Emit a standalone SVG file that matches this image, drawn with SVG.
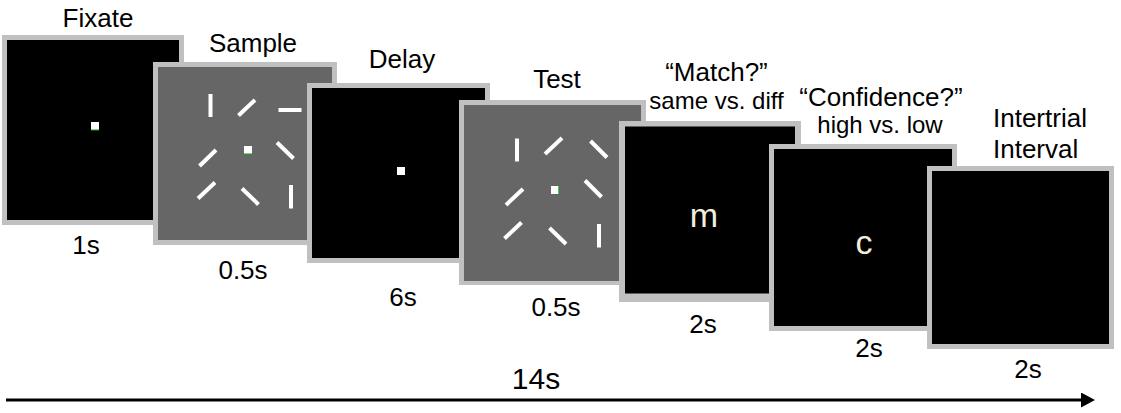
<svg xmlns="http://www.w3.org/2000/svg" width="1121" height="413" viewBox="0 0 1121 413">
  <style>
    .frame { fill: #c0c0c0; }
    .dark { fill: #000000; }
    .grey { fill: #666666; }
    .lbl { font-family: "Liberation Sans", Arial, sans-serif; font-size: 26px; fill: #000000; text-anchor: middle; }
    .sub { font-size: 24px; }
    .big { font-size: 30px; }
    .cue { font-family: "Liberation Sans", Arial, sans-serif; font-size: 34px; fill: #f3eedc; text-anchor: middle; }
    .fix { fill: #ffffff; }
    .bar { stroke: #ffffff; stroke-width: 4; stroke-linecap: butt; fill: none; }
  </style>
  <defs>
    <marker id="arrowhead" viewBox="0 0 14 15" refX="0" refY="7.5" markerWidth="14" markerHeight="15" markerUnits="userSpaceOnUse" orient="auto">
      <path d="M0,0 L14,7.5 L0,15 Z" fill="#000000"/>
    </marker>
  </defs>

  <rect width="1121" height="413" fill="#ffffff"/>

  <!-- Fixate screen -->
  <g id="fixate">
    <text class="lbl" x="98" y="27">Fixate</text>
    <rect class="frame" x="2" y="35" width="182" height="190"/>
    <rect class="dark" x="7" y="40" width="172" height="180"/>
    <rect class="fix" x="91" y="122" width="8" height="8"/>
    <rect x="91" y="129.5" width="8" height="1" fill="#1a9a1a"/>
    <text class="lbl" x="86" y="254">1s</text>
  </g>

  <!-- Sample array -->
  <g id="sample">
    <text class="lbl" x="253" y="52">Sample</text>
    <rect class="frame" x="153" y="62" width="184" height="183"/>
    <rect class="grey" x="158" y="67" width="174" height="173"/>
    <line class="bar" x1="210.5" y1="94" x2="210.5" y2="117"/>
    <line class="bar" x1="238.5" y1="115.5" x2="255" y2="100"/>
    <line class="bar" x1="278.5" y1="110" x2="301.5" y2="110"/>
    <line class="bar" x1="199.5" y1="166" x2="216" y2="150"/>
    <line class="bar" x1="277" y1="142.5" x2="293.5" y2="158.5"/>
    <line class="bar" x1="198" y1="198.5" x2="215" y2="182.5"/>
    <line class="bar" x1="242" y1="188.5" x2="258.5" y2="204.5"/>
    <line class="bar" x1="291" y1="185" x2="291" y2="208.5"/>
    <rect class="fix" x="244" y="146" width="8" height="8"/>
    <rect x="244" y="153.5" width="8" height="1.2" fill="#1a9a1a"/>
    <text class="lbl" x="243" y="279">0.5s</text>
  </g>

  <!-- Delay screen -->
  <g id="delay">
    <text class="lbl" x="402" y="68">Delay</text>
    <rect class="frame" x="307" y="83" width="183" height="180"/>
    <rect class="dark" x="312" y="88" width="173" height="170"/>
    <rect class="fix" x="397" y="167" width="8" height="8"/>
    <text class="lbl" x="403" y="306">6s</text>
  </g>

  <!-- Test array -->
  <g id="test">
    <text class="lbl" x="557" y="88">Test</text>
    <rect class="frame" x="459" y="100" width="187" height="185"/>
    <rect class="grey" x="464" y="105" width="177" height="176"/>
    <line class="bar" x1="517" y1="138.5" x2="517" y2="161.5"/>
    <line class="bar" x1="545" y1="154" x2="562" y2="138"/>
    <line class="bar" x1="590.5" y1="141" x2="607" y2="157.5"/>
    <line class="bar" x1="506" y1="205" x2="523" y2="189"/>
    <line class="bar" x1="585" y1="180.5" x2="601.5" y2="197"/>
    <line class="bar" x1="504.5" y1="238.5" x2="521.5" y2="222.5"/>
    <line class="bar" x1="549.5" y1="228" x2="566" y2="244"/>
    <line class="bar" x1="599" y1="224" x2="599" y2="247.5"/>
    <rect class="fix" x="551" y="186" width="8" height="8"/>
    <rect x="558.3" y="186" width="1.2" height="8" fill="#1a9a1a"/>
    <text class="lbl" x="556" y="316">0.5s</text>
  </g>

  <!-- Match response screen -->
  <g id="match">
    <text class="lbl" x="716.5" y="81">“Match?”</text>
    <text class="lbl sub" x="716.5" y="109">same vs. diff</text>
    <rect class="frame" x="619" y="121" width="182" height="181"/>
    <rect class="dark" x="625" y="126.5" width="170" height="167"/>
    <text class="cue" x="704" y="227">m</text>
    <text class="lbl" x="703" y="333">2s</text>
  </g>

  <!-- Confidence response screen -->
  <g id="confidence">
    <text class="lbl" x="881" y="106">“Confidence?”</text>
    <text class="lbl sub" x="880" y="133">high vs. low</text>
    <rect class="frame" x="769" y="144" width="188" height="187"/>
    <rect class="dark" x="774" y="149" width="178" height="177"/>
    <text class="cue" x="864" y="254">c</text>
    <text class="lbl" x="869" y="357">2s</text>
  </g>

  <!-- Intertrial interval screen -->
  <g id="iti">
    <text class="lbl" x="993" y="127" text-anchor="start" style="text-anchor:start">Intertrial</text>
    <text class="lbl" x="993" y="158" style="text-anchor:start">Interval</text>
    <rect class="frame" x="927" y="166" width="187" height="183"/>
    <rect class="dark" x="932" y="171" width="177" height="173"/>
    <text class="lbl" x="1028" y="378">2s</text>
  </g>

  <!-- Timeline -->
  <g id="connectors">
    <line x1="6" y1="400" x2="1081" y2="400" stroke="#000000" stroke-width="3" marker-end="url(#arrowhead)"/>
    <text class="lbl big" x="536" y="389">14s</text>
  </g>
</svg>
